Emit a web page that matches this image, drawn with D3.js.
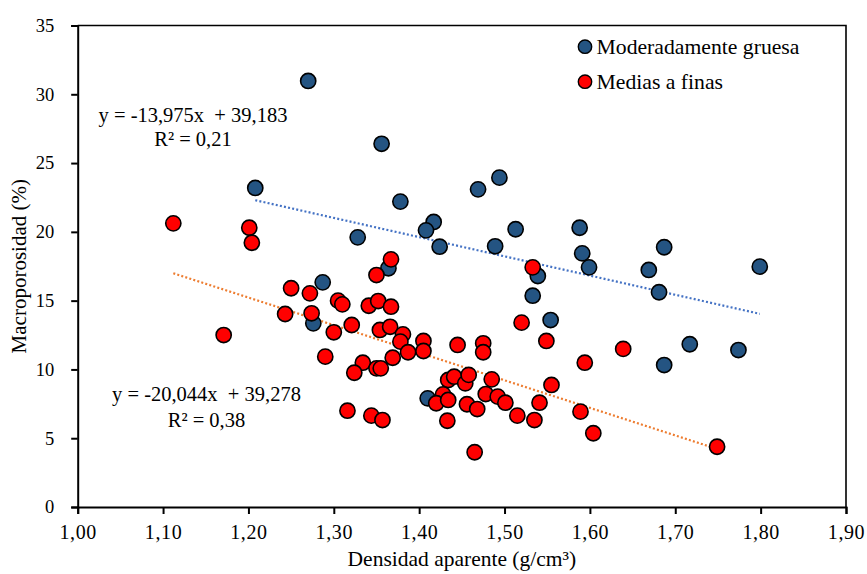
<!DOCTYPE html>
<html>
<head>
<meta charset="utf-8">
<script src="https://cdn.jsdelivr.net/npm/d3@7"></script>
<style>
  html, body { margin: 0; padding: 0; background: #fff; }
  svg { display: block; font-family: "Liberation Serif", "Times New Roman", serif; }
</style>
</head>
<body>
<svg id="chart" width="867" height="574"></svg>
<script>
// Bulk density (g/cm3) vs. macroporosity (%) for two soil texture groups
const gruesaX = [1.270, 1.208, 1.356, 1.378, 1.417, 1.408, 1.424, 1.469, 1.494, 1.489,
                 1.513, 1.588, 1.591, 1.599, 1.687, 1.669, 1.681, 1.799, 1.717, 1.774,
                 1.687, 1.539, 1.533, 1.554, 1.364, 1.287, 1.276, 1.410, 1.328];
const gruesaY = [30.97, 23.19, 26.40, 22.20, 20.72, 20.11, 18.92, 23.09, 23.94, 18.95,
                 20.19, 20.30, 18.44, 17.42, 18.88, 17.23, 15.61, 17.47, 11.83, 11.41,
                 10.32, 16.79, 15.36, 13.59, 17.35, 16.33, 13.35, 7.90, 19.60];

const finasX = [1.112, 1.201, 1.204, 1.171, 1.367, 1.350, 1.250, 1.272, 1.243, 1.274,
                1.305, 1.310, 1.341, 1.352, 1.367, 1.321, 1.300, 1.354, 1.366, 1.381,
                1.378, 1.387, 1.405, 1.405, 1.369, 1.290, 1.334, 1.324, 1.350, 1.355,
                1.445, 1.475, 1.475, 1.434, 1.441, 1.454, 1.458, 1.485, 1.428, 1.420,
                1.434, 1.456, 1.468, 1.478, 1.316, 1.344, 1.357, 1.433, 1.465, 1.533,
                1.520, 1.549, 1.594, 1.555, 1.492, 1.501, 1.541, 1.515, 1.535, 1.589,
                1.604, 1.639, 1.749];
const finasY = [20.62, 20.30, 19.21, 12.50, 18.00, 16.86, 15.90, 15.53, 14.03, 14.08,
                15.00, 14.73, 14.63, 14.97, 14.56, 13.23, 12.70, 12.87, 13.10, 12.55,
                12.02, 11.25, 12.07, 11.34, 10.85, 10.93, 10.49, 9.76, 10.08, 10.08,
                11.78, 11.90, 11.25, 9.23, 9.47, 8.99, 9.60, 9.28, 8.19, 7.54,
                7.78, 7.47, 7.12, 8.21, 7.00, 6.64, 6.32, 6.27, 3.98, 17.42,
                13.40, 12.07, 10.49, 8.87, 8.02, 7.58, 7.58, 6.64, 6.32, 6.93,
                5.36, 11.49, 4.38];

// Linear trend equations as printed on the chart
const seriesNames = ["Moderadamente gruesa", "Medias a finas"];
const trendSlope = [-13.975, -20.044];
const trendIntercept = [39.183, 39.278];
const trendR2 = ["0,21", "0,38"];

const xTicks = [1.0, 1.1, 1.2, 1.3, 1.4, 1.5, 1.6, 1.7, 1.8, 1.9];
const yTicks = [0, 5, 10, 15, 20, 25, 30, 35];

const fillColors = ["#245482", "#ff0000"];
const trendColors = ["#4472c4", "#ed7d31"];
const serif = "Liberation Serif, Times New Roman, serif";

const svg = d3.select("#chart");
const plotL = 77.7, plotR = 846, plotT = 25.5, plotB = 507;

const x = d3.scaleLinear().domain([1.0, 1.9]).range([plotL, plotR]);
const y = d3.scaleLinear().domain([0, 35]).range([plotB, plotT]);
const comma = v => d3.format(".2f")(v).replace(".", ",");

// Frame (top and right edges)
svg.append("path")
  .attr("d", `M${plotL},${plotT}H${plotR}V${plotB}`)
  .attr("fill", "none").attr("stroke", "#000").attr("stroke-width", 1.6);

// Axes
const xAxis = svg.append("g").attr("transform", `translate(0,${plotB})`)
  .call(d3.axisBottom(x).tickValues(xTicks).tickFormat(comma).tickSizeOuter(0).tickSize(7).tickPadding(11));
const yAxis = svg.append("g").attr("transform", `translate(${plotL},0)`)
  .call(d3.axisLeft(y).tickValues(yTicks).tickFormat(d3.format("d")).tickSizeOuter(0).tickSize(6.5).tickPadding(17));

[xAxis, yAxis].forEach(g => {
  g.attr("font-family", serif);
  g.select(".domain").attr("stroke", "#000").attr("stroke-width", 2);
  g.selectAll(".tick line").attr("stroke", "#000").attr("stroke-width", 2);
  g.selectAll(".tick text").attr("fill", "#000").attr("font-family", serif);
});
xAxis.attr("font-size", 20).selectAll(".tick text").attr("letter-spacing", "0.6px");
yAxis.attr("font-size", 18.5);

// Axis titles
svg.append("text")
  .attr("x", (plotL + plotR) / 2).attr("y", 566)
  .attr("text-anchor", "middle").style("font-size", "21.5px")
  .text("Densidad aparente (g/cm³)");
svg.append("text")
  .attr("transform", `translate(26,${(plotT + plotB) / 2}) rotate(-90)`)
  .attr("text-anchor", "middle").style("font-size", "21px")
  .text("Macroporosidad (%)");

// Trend lines over each series' own x range
const seriesX = [gruesaX, finasX];
const seriesY = [gruesaY, finasY];
seriesX.forEach((xs, i) => {
  const [x0, x1] = d3.extent(xs);
  const f = v => trendSlope[i] * v + trendIntercept[i];
  svg.append("line")
    .attr("x1", x(x0)).attr("y1", y(f(x0)))
    .attr("x2", x(x1)).attr("y2", y(f(x1)))
    .attr("stroke", trendColors[i]).attr("stroke-width", 2.2)
    .attr("stroke-dasharray", "2,2.2");
});

// Points: coarse series first, fine series drawn on top
seriesX.forEach((xs, i) => {
  svg.append("g").selectAll("circle")
    .data(xs.map((v, k) => [v, seriesY[i][k]]))
    .join("circle")
    .attr("cx", d => x(d[0])).attr("cy", d => y(d[1]))
    .attr("r", 7.6)
    .attr("fill", fillColors[i]).attr("stroke", "#000").attr("stroke-width", 1.6);
});

// Trend equations
const fmt3 = v => d3.format(".3f")(Math.abs(v)).replace(".", ",");
const eqPos = [[193, 121.7, 145.7], [206.5, 400.7, 426.7]];
eqPos.forEach(([cx, y1, y2], i) => {
  svg.append("text").attr("x", cx).attr("y", y1).attr("text-anchor", "middle")
    .style("font-size", "20.5px").style("white-space", "pre")
    .text(`y = -${fmt3(trendSlope[i])}x  + ${fmt3(trendIntercept[i])}`);
  svg.append("text").attr("x", cx).attr("y", y2).attr("text-anchor", "middle")
    .style("font-size", "20.5px")
    .text(`R² = ${trendR2[i]}`);
});

// Legend
const legend = svg.append("g");
seriesNames.forEach((name, i) => {
  const ly = 46.7 + i * 35;
  legend.append("circle").attr("cx", 585).attr("cy", ly).attr("r", 6.7)
    .attr("fill", fillColors[i]).attr("stroke", "#000").attr("stroke-width", 1.4);
  legend.append("text").attr("x", 596.5).attr("y", ly + 7.5)
    .style("font-size", "21.7px").text(name);
});
</script>
</body>
</html>
